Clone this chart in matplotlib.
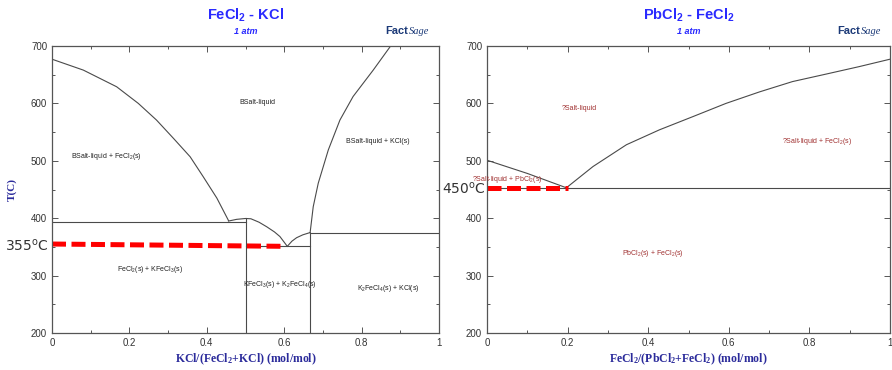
import numpy as np
import matplotlib
matplotlib.use('Agg')
import matplotlib.pyplot as plt
from matplotlib.ticker import MultipleLocator

plt.rcParams['font.family'] = ['Liberation Sans', 'DejaVu Sans']
plt.rcParams['mathtext.default'] = 'regular'

# --- FeCl2 - KCl (left) ---
fecl2_liq_x = [0, 0.081, 0.167, 0.223, 0.270, 0.314, 0.357, 0.391, 0.426, 0.456]
fecl2_liq_T = [677, 658, 629, 600, 571, 539, 507, 472, 435, 396]
kfecl3_liq_x = [0.456, 0.477, 0.50, 0.514, 0.535, 0.555, 0.575, 0.589, 0.608]
kfecl3_liq_T = [395, 398, 399.5, 399, 393, 385, 376, 368, 351]
k2fecl4_liq_x = [0.608, 0.62, 0.632, 0.648, 0.667]
k2fecl4_liq_T = [351, 360, 366, 371, 375]
kcl_liq_x = [0.667, 0.675, 0.688, 0.714, 0.744, 0.778, 0.830, 0.875]
kcl_liq_T = [375, 420, 461, 519, 571, 612, 658, 700]
# horizontal invariants: (x0, x1, T)
left_hlines = [(0, 0.5, 394), (0.5, 0.667, 351), (0.667, 1.0, 375)]
# vertical compound lines: (x, Tmax)
left_vlines = [(0.5, 399.5), (0.667, 375)]
left_red_x = [0, 0.6]
left_red_T = [355, 351]
left_labels = [
    (0.53, 602, 'BSalt-liquid'),
    (0.141, 508, 'BSalt-liquid + FeCl$_2$(s)'),
    (0.843, 533, 'BSalt-liquid + KCl(s)'),
    (0.253, 310, 'FeCl$_2$(s) + KFeCl$_3$(s)'),
    (0.589, 285, 'KFeCl$_3$(s) + K$_2$FeCl$_4$(s)'),
    (0.869, 278, 'K$_2$FeCl$_4$(s) + KCl(s)'),
]

# --- PbCl2 - FeCl2 (right) ---
pbcl2_liq_x = [0, 0.1, 0.197]
pbcl2_liq_T = [501, 478, 453]
fecl2b_liq_x = [0.197, 0.263, 0.346, 0.428, 0.511, 0.593, 0.676, 0.758, 0.841, 0.923, 1.0]
fecl2b_liq_T = [453, 490, 528, 554, 577, 600, 620, 638, 651, 664, 677]
right_eut_T = 453
right_red_x = [0, 0.2]
right_red_T = [453, 453]
right_labels = [
    (0.230, 591, '?Salt-liquid'),
    (0.820, 533, '?Salt-liquid + FeCl$_2$(s)'),
    (0.050, 468, '?Salt-liquid + PbCl$_2$(s)'),
    (0.412, 339, 'PbCl$_2$(s) + FeCl$_2$(s)'),
]

xticks = [0, 0.2, 0.4, 0.6, 0.8, 1]
xticklabels = ['0', '0.2', '0.4', '0.6', '0.8', '1']
yticks = [200, 300, 400, 500, 600, 700]

line_c = '#4a4a4a'
blue = '#2a2aff'
navy = '#2b2b9b'

fig = plt.figure(figsize=(8.92, 3.70), dpi=100)
W, H = 892.0, 370.0
ax1 = fig.add_axes([52 / W, 37 / H, 387 / W, 287 / H])
ax2 = fig.add_axes([487 / W, 37 / H, 403 / W, 287 / H])


def style(ax):
    ax.set_xlim(0, 1)
    ax.set_ylim(200, 700)
    ax.set_xticks(xticks)
    ax.set_xticklabels(xticklabels)
    ax.set_yticks(yticks)
    ax.xaxis.set_minor_locator(MultipleLocator(0.1))
    ax.yaxis.set_minor_locator(MultipleLocator(50))
    ax.tick_params(which='both', direction='in', top=True, right=True,
                   labelsize=7, labelcolor='#333333', color='#555555', width=0.7)
    ax.tick_params(which='major', length=4)
    ax.tick_params(which='minor', length=2)
    for s in ax.spines.values():
        s.set_color('#555555')
        s.set_linewidth(0.9)


style(ax1)
style(ax2)

# left diagram
for xs, ts in [(fecl2_liq_x, fecl2_liq_T), (kfecl3_liq_x, kfecl3_liq_T),
               (k2fecl4_liq_x, k2fecl4_liq_T), (kcl_liq_x, kcl_liq_T)]:
    ax1.plot(xs, ts, color=line_c, lw=0.8)
for x0, x1, t in left_hlines:
    ax1.plot([x0, x1], [t, t], color=line_c, lw=0.8)
for x, tmax in left_vlines:
    ax1.plot([x, x], [200, tmax], color=line_c, lw=0.8)
ax1.plot(left_red_x, left_red_T, color='red', lw=3.6, dashes=(2.8, 1.1),
         solid_capstyle='butt', clip_on=False)
for x, t, s in left_labels:
    ax1.text(x, t, s, fontsize=5, color='#222222', ha='center', va='center')
ax1.text(-0.008, 353, '355$^{o}$C', fontsize=10, color='#333333',
         ha='right', va='center', family=['DejaVu Sans'])

# right diagram
ax2.plot(pbcl2_liq_x, pbcl2_liq_T, color=line_c, lw=0.8)
ax2.plot(fecl2b_liq_x, fecl2b_liq_T, color=line_c, lw=0.8)
ax2.plot([0, 1], [right_eut_T, right_eut_T], color=line_c, lw=0.8)
ax2.plot(right_red_x, right_red_T, color='red', lw=3.6, dashes=(2.8, 1.1),
         solid_capstyle='butt', clip_on=False)
for x, t, s in right_labels:
    ax2.text(x, t, s, fontsize=5, color='#a03030', ha='center', va='center',
             clip_on=False)
ax2.text(-0.002, 452, '450$^{o}$C', fontsize=10, color='#333333',
         ha='right', va='center', family=['DejaVu Sans'])

# titles
ax1.set_title('FeCl$_2$ - KCl', fontsize=10.5, fontweight='bold', color=blue,
              pad=19)
ax2.set_title('PbCl$_2$ - FeCl$_2$', fontsize=10.5, fontweight='bold',
              color=blue, pad=19)
for ax in (ax1, ax2):
    ax.text(0.5, 1.052, '1 atm', transform=ax.transAxes, fontsize=6.5,
            fontweight='bold', style='italic', color=blue, ha='center',
            va='center')

# axis labels
ax1.set_ylabel('T(C)', family=['Liberation Serif'], fontweight='bold',
               fontsize=8, color=navy, labelpad=10)
ax1.set_xlabel('KCl/(FeCl$_2$+KCl) (mol/mol)', family=['Liberation Serif'],
               fontweight='bold', fontsize=8.5, color=navy, labelpad=3)
ax2.set_xlabel('FeCl$_2$/(PbCl$_2$+FeCl$_2$) (mol/mol)',
               family=['Liberation Serif'], fontweight='bold', fontsize=8.5,
               color=navy, labelpad=3)

# FactSage marks
for xr in (437, 889):
    fig.text(xr / W - 0.032, 1 - 31 / H, 'Fact', fontsize=8, fontweight='bold',
             color='#1c3a78', ha='right', va='center')
    fig.text(xr / W - 0.032, 1 - 31 / H, 'Sage', fontsize=7.5, style='italic',
             family=['Liberation Serif'], color='#1c3a78', ha='left',
             va='center')

fig.savefig('out.png', dpi=100)
